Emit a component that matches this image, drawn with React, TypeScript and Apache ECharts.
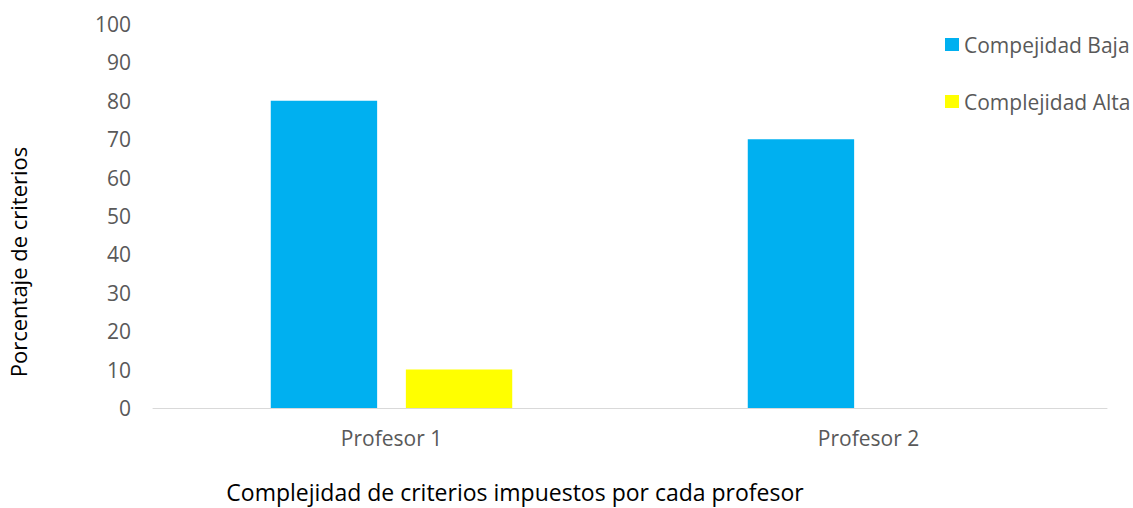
import React, { useEffect, useRef } from "react";
import * as echarts from "echarts";

const categories = ["Profesor 1", "Profesor 2"];
const bajaValues = [80, 70];
const altaValues = [10, 0];
const seriesNames = ["Compejidad Baja", "Complejidad Alta"];
const yTitle = "Porcentaje de criterios";
const xTitle = "Complejidad de criterios impuestos por cada profesor";

const FONT = "'Open Sans', 'Noto Sans', sans-serif";

export default function App() {
  const ref = useRef<HTMLDivElement>(null);
  useEffect(() => {
    if (!ref.current) return;
    const chart = echarts.init(ref.current, undefined, { renderer: "svg" });
    chart.setOption({
      animation: false,
      backgroundColor: "#ffffff",
      textStyle: { fontFamily: FONT },
      grid: { left: 153, right: 26, top: 24, bottom: 100, containLabel: false },
      legend: {
        orient: "vertical",
        left: 940,
        top: 29,
        itemWidth: 14,
        itemHeight: 13,
        itemGap: 36,
        icon: "rect",
        textStyle: { color: "#595959", fontSize: 21, fontFamily: FONT },
        data: seriesNames,
      },
      xAxis: {
        type: "category",
        data: categories,
        axisLine: { show: true, lineStyle: { color: "#d9d9d9", width: 1 } },
        axisTick: { show: false },
        axisLabel: { color: "#595959", fontSize: 21, margin: 19, fontFamily: FONT },
      },
      yAxis: {
        type: "value",
        min: 0,
        max: 100,
        interval: 10,
        axisLine: { show: false },
        axisTick: { show: false },
        splitLine: { show: false },
        axisLabel: { color: "#595959", fontSize: 21, margin: 22, fontFamily: FONT },
      },
      graphic: [
        {
          type: "text",
          x: 18,
          y: 262,
          rotation: Math.PI / 2,
          style: {
            text: yTitle,
            fill: "#000000",
            font: `22px ${FONT}`,
            align: "center",
            verticalAlign: "middle",
          },
        },
        {
          type: "text",
          x: 515,
          y: 492,
          style: {
            text: xTitle,
            fill: "#000000",
            font: `23px ${FONT}`,
            align: "center",
            verticalAlign: "middle",
          },
        },
      ],
      series: [
        {
          name: seriesNames[0],
          type: "bar",
          data: bajaValues,
          barWidth: "22.3%",
          barGap: "27%",
          itemStyle: { color: "#00b0f0" },
        },
        {
          name: seriesNames[1],
          type: "bar",
          data: altaValues,
          barWidth: "22.3%",
          barGap: "27%",
          itemStyle: { color: "#ffff00" },
        },
      ],
    });
    return () => chart.dispose();
  }, []);
  return (
    <div
      ref={ref}
      style={{ position: "absolute", left: 0, top: 0, width: 1133, height: 508 }}
    />
  );
}
